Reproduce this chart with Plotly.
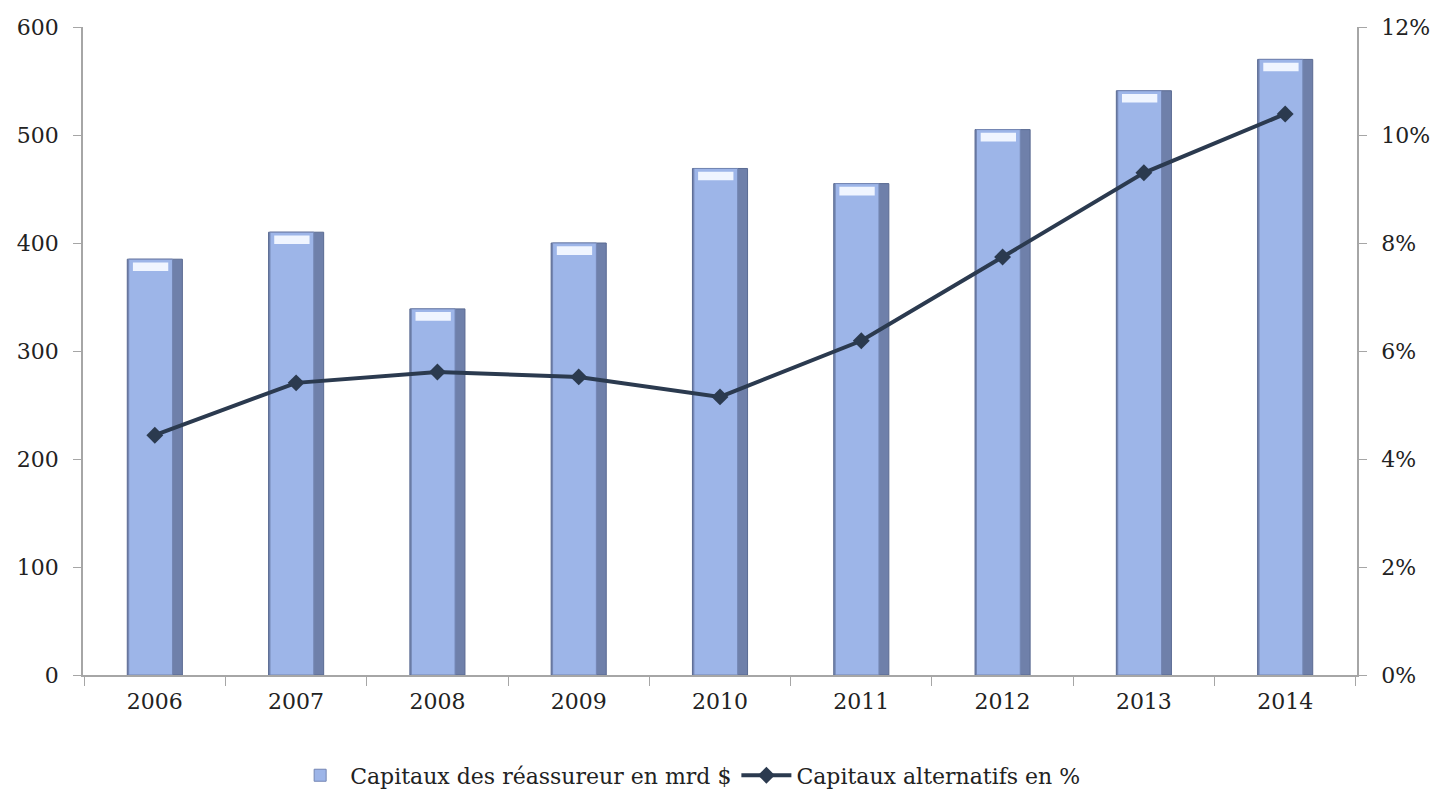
import plotly.graph_objects as go

years = ["2006", "2007", "2008", "2009", "2010", "2011", "2012", "2013", "2014"]
capitaux_reassureurs = [385, 410, 339, 400, 469, 455, 505, 541, 570]
capitaux_alternatifs = [4.44, 5.41, 5.61, 5.52, 5.15, 6.19, 7.74, 9.30, 10.39]

left_ticks = [0, 100, 200, 300, 400, 500, 600]
right_ticks = [0, 2, 4, 6, 8, 10, 12]
right_tick_text = [f"{v}%" for v in right_ticks]

serif = "Georgia, 'DejaVu Serif', serif"

# Light bevel near the top of each column (axis units below the top, and its height)
BEVEL_GAP = 3
BEVEL = 8
bevel_base = [v - BEVEL_GAP - BEVEL for v in capitaux_reassureurs]
bevel_height = [BEVEL for _ in capitaux_reassureurs]

fig = go.Figure()

# Darker shell of each column (gives the shaded right edge)
fig.add_trace(go.Bar(
    x=years, y=capitaux_reassureurs,
    marker=dict(color="#6F80AA", line=dict(color="#5A6A92", width=1)),
    width=0.39,
    showlegend=False,
    hoverinfo="skip",
))
# Lighter face of each column
fig.add_trace(go.Bar(
    x=years, y=capitaux_reassureurs,
    name="Capitaux des réassureur en mrd $",
    marker=dict(color="#9DB5E8", line=dict(color="#7486B3", width=1)),
    width=0.31,
    offset=-0.185,
    hoverinfo="skip",
))
# Bright bevel at the top of each column
fig.add_trace(go.Bar(
    x=years, y=bevel_height, base=bevel_base,
    marker=dict(color="#F0F5FF", line=dict(width=0)),
    width=0.25,
    offset=-0.155,
    showlegend=False,
    hoverinfo="skip",
))

fig.add_trace(go.Scatter(
    x=years, y=capitaux_alternatifs,
    name="Capitaux alternatifs en %",
    mode="lines+markers",
    line=dict(color="#2B3A4F", width=4),
    marker=dict(symbol="diamond", size=13, color="#2B3A4F"),
    yaxis="y2",
))

fig.update_layout(
    width=1433, height=792,
    margin=dict(l=83, r=76, t=27, b=117, autoexpand=False),
    paper_bgcolor="white",
    plot_bgcolor="white",
    barmode="overlay",
    font=dict(family=serif, size=22, color="#222222"),
    xaxis=dict(
        type="category",
        showgrid=False,
        showline=True, linecolor="#A6A6A6", linewidth=1.5,
        ticks="outside", tickson="boundaries", ticklen=9, tickcolor="#A6A6A6",
        tickfont=dict(size=22),
        ticklabelstandoff=6,
    ),
    yaxis=dict(
        range=[0, 600],
        tickvals=left_ticks,
        showgrid=False, zeroline=False,
        showline=True, linecolor="#A6A6A6", linewidth=1.5,
        ticks="outside", ticklen=8, tickcolor="#A6A6A6",
        tickfont=dict(size=22),
        ticklabelstandoff=10,
    ),
    yaxis2=dict(
        range=[0, 12],
        tickvals=right_ticks, ticktext=right_tick_text,
        overlaying="y", side="right",
        showgrid=False, zeroline=False,
        showline=True, linecolor="#A6A6A6", linewidth=1.5,
        ticks="outside", ticklen=8, tickcolor="#A6A6A6",
        tickfont=dict(size=22),
        ticklabelstandoff=10,
    ),
    legend=dict(
        orientation="h",
        x=0.475, xanchor="center",
        y=-0.155, yanchor="middle",
        font=dict(size=22),
        itemwidth=50,
        traceorder="normal",
    ),
)

fig.write_html("out.html")
